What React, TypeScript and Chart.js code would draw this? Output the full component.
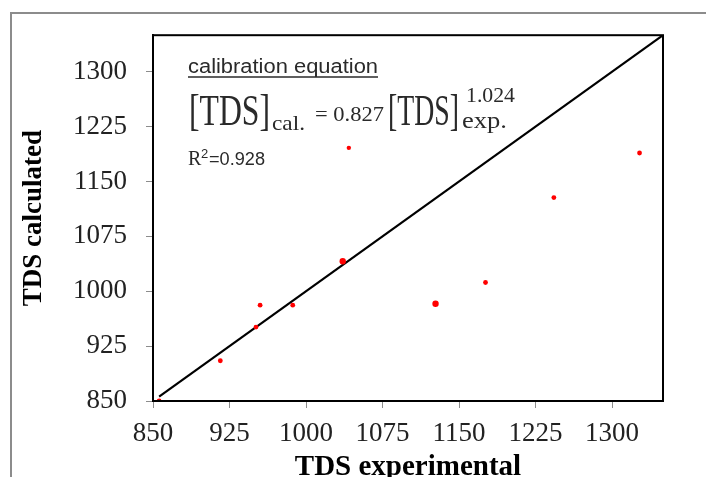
import React, { useEffect, useRef } from "react";
import { Chart, registerables } from "chart.js";

Chart.register(...registerables);

// Measured vs. calculated total dissolved solids
const tdsExperimental = [856, 916, 951, 955, 987, 1036, 1042, 1127, 1176, 1243, 1327];
const tdsCalculated = [850, 905, 951, 981, 981, 1041, 1196, 983, 1012, 1128, 1189];
const pointSizes = [2.4, 2.4, 2.4, 2.4, 2.4, 3.2, 2.2, 3.2, 2.4, 2.4, 2.4];

// 1:1 reference line
const lineX = [856, 1350];
const lineY = [856, 1350];

const tickValues = [850, 925, 1000, 1075, 1150, 1225, 1300];
const axisMin = 850;
const axisMax = 1350;

const SERIF = "'Liberation Serif', 'Times New Roman', serif";
const SANS = "'Liberation Sans', Arial, sans-serif";

function drawFitted(
  ctx: CanvasRenderingContext2D,
  text: string,
  x: number,
  baseline: number,
  font: string,
  width: number | null,
  sy: number
) {
  ctx.save();
  ctx.font = font;
  const w = ctx.measureText(text).width;
  ctx.translate(x, baseline);
  ctx.scale(width ? width / w : 1, sy);
  ctx.fillText(text, 0, 0);
  ctx.restore();
}

const framePlugin = {
  id: "frame",
  beforeDraw(chart: any) {
    const ctx = chart.ctx as CanvasRenderingContext2D;
    ctx.save();
    ctx.strokeStyle = "#8c8c8c";
    ctx.lineWidth = 2;
    ctx.beginPath();
    ctx.moveTo(11, 477);
    ctx.lineTo(11, 13);
    ctx.lineTo(706, 13);
    ctx.stroke();
    ctx.restore();
  },
  afterDraw(chart: any) {
    const ctx = chart.ctx as CanvasRenderingContext2D;
    const a = chart.chartArea;
    ctx.save();
    ctx.strokeStyle = "#000";
    ctx.lineWidth = 2;
    ctx.strokeRect(a.left, a.top, a.right - a.left, a.bottom - a.top);

    ctx.textAlign = "left";
    ctx.textBaseline = "alphabetic";
    ctx.fillStyle = "#2a2a2a";

    // heading
    drawFitted(ctx, "calibration equation", 188, 73, `20px ${SANS}`, 190, 1);
    ctx.strokeStyle = "#2a2a2a";
    ctx.lineWidth = 1.4;
    ctx.beginPath();
    ctx.moveTo(188, 77);
    ctx.lineTo(378, 77);
    ctx.stroke();

    // [TDS]cal. = 0.827 [TDS]exp.^1.024
    drawFitted(ctx, "[TDS]", 189, 125, `32px ${SERIF}`, 81, 1.36);
    drawFitted(ctx, "cal.", 272, 130, `20px ${SERIF}`, 33, 1.05);
    drawFitted(ctx, "= 0.827", 315, 121, `20px ${SERIF}`, 69, 1.05);
    drawFitted(ctx, "[TDS]", 388, 125, `32px ${SERIF}`, 71, 1.36);
    drawFitted(ctx, "1.024", 466, 102, `21px ${SERIF}`, 49, 1);
    drawFitted(ctx, "exp.", 462, 128, `21px ${SERIF}`, 45, 1.05);

    // R^2
    drawFitted(ctx, "R", 188, 165, `20px ${SERIF}`, null, 1);
    drawFitted(ctx, "2", 201, 158, `13px ${SANS}`, null, 1);
    drawFitted(ctx, "=0.928", 209, 165, `18px ${SANS}`, 56, 1);
    ctx.restore();
  },
};

export default function App() {
  const canvasRef = useRef<HTMLCanvasElement | null>(null);

  useEffect(() => {
    document.body.style.margin = "0";
    const canvas = canvasRef.current;
    if (!canvas) return;

    const scatterPoints = tdsExperimental.map((x, i) => ({ x, y: tdsCalculated[i] }));
    const linePoints = lineX.map((x, i) => ({ x, y: lineY[i] }));

    const tickFont = { family: SERIF, size: 27 };
    const plainLabel = (v: any) => String(v);

    const chart = new Chart(canvas, {
      type: "scatter",
      data: {
        datasets: [
          {
            label: "TDS",
            data: scatterPoints,
            backgroundColor: "#ff0000",
            borderColor: "#ff0000",
            pointRadius: pointSizes,
            pointBorderWidth: 0,
            order: 0,
          },
          {
            type: "line",
            label: "1:1",
            data: linePoints,
            borderColor: "#000",
            borderWidth: 2.2,
            pointRadius: 0,
            showLine: true,
            fill: false,
            order: 1,
          } as any,
        ],
      },
      options: {
        animation: false,
        responsive: false,
        layout: { padding: { top: 32, right: 43, left: 0, bottom: 0 } },
        plugins: { legend: { display: false }, tooltip: { enabled: false } },
        scales: {
          x: {
            type: "linear",
            min: axisMin,
            max: axisMax,
            afterBuildTicks: (s: any) => {
              s.ticks = tickValues.map((v) => ({ value: v }));
            },
            afterFit: (s: any) => {
              s.height = 76;
            },
            grid: { drawOnChartArea: false, drawTicks: true, tickLength: 7, color: "#8c8c8c" },
            border: { display: true, color: "#111", width: 2 },
            ticks: { padding: 10, font: tickFont, color: "#222", maxRotation: 0, autoSkip: false, callback: plainLabel },
            title: {
              display: true,
              text: "TDS experimental",
              font: { family: SERIF, size: 29, weight: "bold" as const },
              color: "#000",
              padding: { top: 0, bottom: -8 },
            },
          },
          y: {
            type: "linear",
            min: axisMin,
            max: axisMax,
            afterBuildTicks: (s: any) => {
              s.ticks = tickValues.map((v) => ({ value: v }));
            },
            afterFit: (s: any) => {
              s.width = 153;
            },
            grid: { drawOnChartArea: false, drawTicks: true, tickLength: 7, color: "#8c8c8c" },
            border: { display: true, color: "#111", width: 2 },
            ticks: { padding: 19, font: tickFont, color: "#222", autoSkip: false, callback: plainLabel },
            title: {
              display: true,
              text: "TDS calculated",
              font: { family: SERIF, size: 27, weight: "bold" as const },
              color: "#000",
              padding: { top: 18, bottom: 0 },
            },
          },
        },
      },
      plugins: [framePlugin],
    });

    return () => chart.destroy();
  }, []);

  return (
    <div style={{ width: 706, height: 477 }}>
      <canvas ref={canvasRef} width={706} height={477} style={{ display: "block" }} />
    </div>
  );
}
